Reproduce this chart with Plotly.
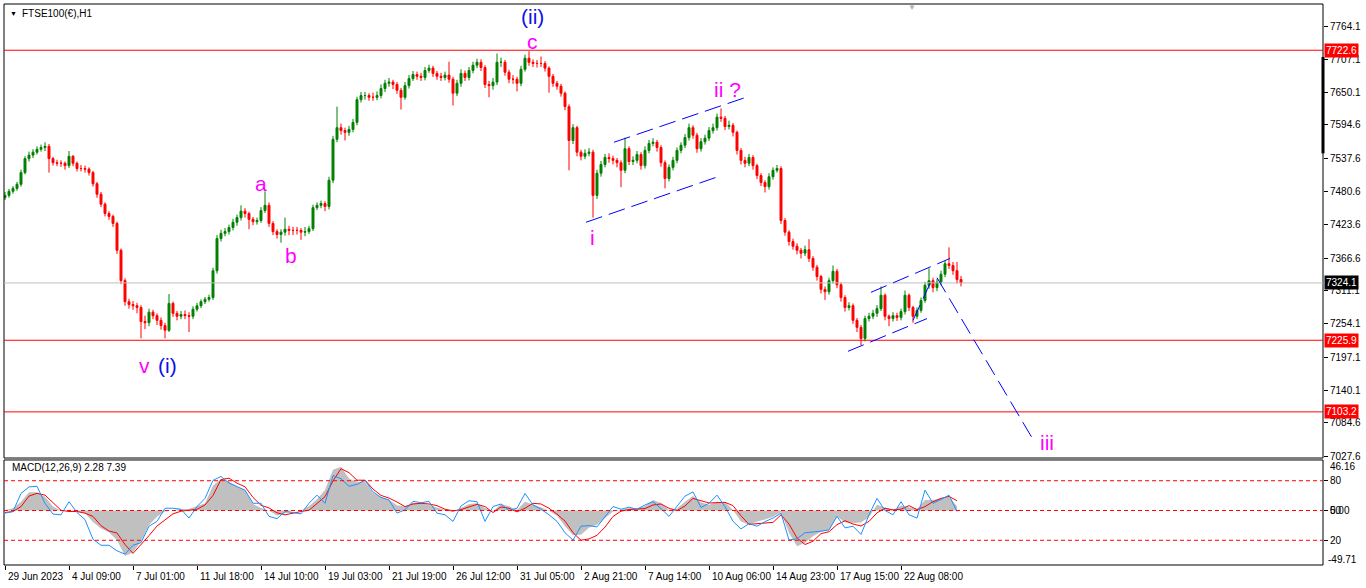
import plotly.graph_objects as go

# ---- price data: one candle per 4 hourly bars, FTSE100 H1 (29 Jun - 24 Aug 2023)
bar_step = 4
first_open = 7470
closes = [
    7474, 7481, 7486, 7493, 7513, 7537, 7543, 7548, 7553, 7556,
    7558, 7537, 7530, 7529, 7529, 7525, 7541, 7529, 7520, 7520,
    7519, 7513, 7494, 7476, 7459, 7443, 7438, 7426, 7380, 7328,
    7292, 7287, 7285, 7282, 7258, 7256, 7274, 7268, 7260, 7251,
    7243, 7289, 7272, 7267, 7270, 7268, 7267, 7279, 7285, 7292,
    7296, 7299, 7345, 7400, 7409, 7412, 7419, 7428, 7436, 7447,
    7443, 7433, 7429, 7431, 7448, 7457, 7426, 7412, 7407, 7411,
    7416, 7414, 7414, 7414, 7411, 7412, 7417, 7453, 7457, 7460,
    7455, 7500, 7570, 7590, 7585, 7582, 7587, 7599, 7638, 7645,
    7645, 7642, 7642, 7645, 7657, 7666, 7668, 7664, 7654, 7642,
    7662, 7674, 7681, 7678, 7676, 7688, 7692, 7683, 7678, 7676,
    7680, 7673, 7649, 7666, 7683, 7676, 7688, 7697, 7702, 7693,
    7664, 7662, 7668, 7702, 7702, 7685, 7673, 7673, 7666, 7690,
    7709, 7702, 7700, 7700, 7700, 7692, 7678, 7666, 7661, 7649,
    7626, 7568, 7590, 7548, 7541, 7546, 7548, 7474, 7512, 7527,
    7539, 7537, 7534, 7530, 7517, 7554, 7532, 7534, 7544, 7525,
    7551, 7563, 7565, 7556, 7530, 7503, 7522, 7534, 7551, 7560,
    7573, 7590, 7577, 7554, 7566, 7572, 7585, 7590, 7608, 7606,
    7592, 7594, 7582, 7551, 7534, 7529, 7539, 7525, 7508, 7496,
    7489, 7506, 7517, 7520, 7431, 7411, 7395, 7387, 7380, 7375,
    7381, 7366, 7351, 7335, 7313, 7309, 7328, 7344, 7321, 7299,
    7282, 7285, 7260, 7248, 7229, 7263, 7267, 7272, 7280, 7303,
    7267, 7263, 7268, 7265, 7275, 7303, 7282, 7267, 7277, 7294,
    7320, 7328, 7316, 7325, 7339, 7357, 7354, 7345, 7330, 7324.1,
]
highs = [
    7480, 7485, 7490, 7497, 7518, 7541, 7549, 7553, 7558, 7561,
    7565, 7562, 7540, 7535, 7534, 7532, 7550, 7543, 7532, 7526,
    7525, 7522, 7516, 7497, 7480, 7462, 7447, 7441, 7429, 7383,
    7332, 7297, 7293, 7290, 7286, 7268, 7280, 7278, 7272, 7265,
    7256, 7305, 7292, 7276, 7276, 7277, 7274, 7284, 7290, 7296,
    7300, 7304, 7350, 7406, 7415, 7418, 7424, 7434, 7441, 7457,
    7452, 7446, 7437, 7436, 7454, 7481, 7462, 7430, 7416, 7416,
    7436, 7422, 7420, 7420, 7418, 7420, 7422, 7458, 7462, 7465,
    7464, 7506, 7576, 7626, 7597, 7590, 7593, 7605, 7643, 7651,
    7651, 7649, 7650, 7652, 7664, 7672, 7675, 7672, 7668, 7658,
    7668, 7680, 7687, 7686, 7684, 7694, 7698, 7696, 7687, 7684,
    7686, 7703, 7677, 7672, 7690, 7688, 7694, 7703, 7708, 7707,
    7697, 7670, 7675, 7717, 7710, 7706, 7689, 7680, 7677, 7696,
    7715, 7721, 7707, 7706, 7712, 7704, 7695, 7682, 7670, 7665,
    7652, 7630, 7596, 7593, 7552, 7553, 7555, 7552, 7518, 7533,
    7545, 7546, 7542, 7538, 7534, 7573, 7558, 7541, 7550, 7548,
    7558, 7569, 7572, 7569, 7560, 7534, 7527, 7540, 7556, 7565,
    7579, 7597, 7594, 7581, 7572, 7578, 7591, 7597, 7614, 7623,
    7610, 7602, 7598, 7585, 7555, 7540, 7545, 7543, 7528, 7512,
    7500, 7512, 7522, 7526, 7524, 7435, 7414, 7400, 7392, 7384,
    7388, 7399, 7370, 7355, 7338, 7318, 7333, 7354, 7348, 7325,
    7303, 7291, 7289, 7264, 7252, 7268, 7273, 7278, 7286, 7318,
    7306, 7270, 7274, 7273, 7280, 7311, 7306, 7285, 7282, 7299,
    7326, 7349, 7333, 7331, 7345, 7362, 7385, 7360, 7360, 7336,
]
lows = [
    7466, 7470, 7477, 7482, 7489, 7510, 7532, 7538, 7544, 7549,
    7550, 7513, 7525, 7524, 7523, 7518, 7521, 7524, 7515, 7515,
    7513, 7508, 7489, 7470, 7454, 7438, 7432, 7420, 7374, 7322,
    7285, 7280, 7278, 7272, 7229, 7245, 7250, 7262, 7252, 7244,
    7229, 7240, 7266, 7260, 7262, 7262, 7240, 7262, 7275, 7281,
    7288, 7292, 7295, 7340, 7395, 7404, 7407, 7414, 7422, 7431,
    7436, 7416, 7423, 7424, 7427, 7444, 7420, 7406, 7400, 7393,
    7405, 7406, 7406, 7407, 7398, 7404, 7408, 7413, 7449, 7452,
    7447, 7450, 7495, 7565, 7578, 7568, 7576, 7582, 7594, 7633,
    7638, 7636, 7636, 7637, 7640, 7651, 7660, 7656, 7648, 7621,
    7638, 7657, 7670, 7672, 7670, 7671, 7684, 7677, 7672, 7670,
    7671, 7667, 7628, 7644, 7660, 7670, 7671, 7683, 7692, 7687,
    7658, 7642, 7655, 7663, 7694, 7679, 7666, 7665, 7652, 7661,
    7686, 7696, 7694, 7693, 7694, 7686, 7650, 7660, 7655, 7643,
    7620, 7517, 7562, 7541, 7534, 7536, 7541, 7436, 7468, 7506,
    7522, 7530, 7527, 7522, 7488, 7512, 7526, 7526, 7529, 7518,
    7520, 7546, 7558, 7549, 7523, 7486, 7498, 7517, 7529, 7546,
    7555, 7568, 7571, 7547, 7549, 7561, 7567, 7580, 7585, 7600,
    7586, 7587, 7575, 7544, 7527, 7522, 7524, 7518, 7502, 7490,
    7479, 7484, 7501, 7513, 7425, 7405, 7388, 7381, 7373, 7366,
    7370, 7360, 7345, 7328, 7306, 7295, 7304, 7323, 7315, 7292,
    7275, 7277, 7254, 7240, 7217, 7224, 7258, 7262, 7266, 7276,
    7260, 7250, 7258, 7259, 7260, 7270, 7276, 7256, 7262, 7273,
    7290, 7314, 7308, 7310, 7320, 7334, 7348, 7338, 7323, 7318,
]

# ---- MACD(12,26,9) window, one sample per 8 hourly bars
macd_step = 8
macd_hist = [
    0.6, 2.1, 8.1, 16.6, 16.6, 12.6, 3.6, -0.3, 0.3, -1.2,
    -2.4, -10.5, -16.3, -19.9, -27.1, -41.5, -38.2, -28.0, -13.2, -5.7,
    -0.9, 0.3, 1.5, 1.5, 4.2, 6.6, 22.9, 28.9, 26.5, 22.0,
    18.7, 6.0, 2.4, 0.0, -4.8, -2.4, -0.3, 0.0, 4.2, 10.2,
    18.7, 37.3, 40.0, 29.2, 25.9, 26.2, 16.0, 12.3, 9.9, 4.8,
    3.6, 7.2, 6.6, 5.4, 2.7, 0.6, -1.5, 2.4, 6.0, 6.6,
    2.1, -0.6, 6.0, 3.9, 0.6, 8.1, 5.7, 3.0, -0.3, -4.8,
    -14.4, -22.6, -22.0, -15.7, -12.9, -6.9, -0.9, 0.9, 2.1, 2.1,
    4.2, 9.6, 6.9, 0.6, 1.8, 8.1, 13.2, 7.5, 5.4, 8.1,
    7.8, 0.6, -9.9, -12.9, -9.9, -8.1, -5.7, -1.5, -20.5, -32.5,
    -29.5, -23.5, -19.3, -17.8, -5.4, -10.8, -11.4, -10.8, -6.0, 5.4,
    2.7, 0.6, 4.5, 3.0, 1.5, 9.6, 9.6, 11.1, 12.3, 4.0,
]
macd_signal = [
    -1.8, -0.9, 3.6, 13.2, 15.7, 14.1, 7.2, 0.3, -0.9, -0.9,
    -2.4, -5.4, -13.8, -18.7, -20.5, -31.0, -39.1, -31.3, -22.9, -14.1,
    -8.4, -3.0, -0.6, 0.0, 1.2, 5.1, 13.8, 28.3, 29.5, 25.0,
    21.7, 12.0, 4.8, 2.4, -2.1, -3.9, -2.1, -0.9, 0.3, 6.9,
    12.6, 27.1, 38.2, 34.6, 27.7, 27.7, 19.6, 13.8, 11.4, 7.8,
    3.6, 6.0, 6.6, 6.0, 4.5, 1.2, -0.3, 0.9, 3.3, 5.7,
    3.6, -1.8, 3.3, 2.1, -1.2, 2.1, 6.6, 6.0, 2.1, -3.3,
    -9.6, -20.2, -27.1, -25.9, -22.6, -15.1, -5.4, -0.6, 0.9, 1.2,
    1.8, 5.1, 6.0, 2.1, 0.0, 4.2, 11.1, 9.0, 6.9, 7.2,
    7.5, 4.5, -4.8, -12.6, -12.0, -11.4, -10.8, -3.9, -12.3, -25.0,
    -31.0, -28.0, -21.1, -19.3, -12.9, -9.3, -12.3, -14.1, -9.9, -2.1,
    2.1, 0.6, 1.2, 4.5, 0.9, 3.6, 8.1, 11.1, 12.9, 9.0,
]
osc_line = [
    47.4, 49.0, 67.2, 73.8, 74.4, 57.3, 46.4, 45.7, 58.9, 48.0,
    40.8, 21.0, 15.0, 15.0, 9.4, 6.1, 15.0, 17.7, 34.2, 39.1,
    52.3, 52.3, 51.3, 42.4, 54.0, 62.2, 80.4, 84.3, 77.7, 74.4,
    70.5, 57.3, 57.3, 44.1, 41.8, 49.0, 48.0, 46.7, 57.3, 65.5,
    57.3, 85.3, 82.0, 74.4, 76.4, 80.4, 68.8, 63.2, 60.6, 47.4,
    50.7, 59.2, 57.9, 59.2, 47.4, 45.7, 39.1, 54.6, 59.9, 58.9,
    39.1, 54.0, 56.6, 50.0, 52.3, 67.2, 55.6, 51.3, 45.7, 39.1,
    27.6, 20.3, 34.2, 34.8, 33.5, 44.1, 54.0, 51.3, 53.3, 51.3,
    55.6, 58.9, 52.0, 44.1, 54.0, 64.5, 68.8, 53.0, 57.3, 65.5,
    54.0, 39.1, 31.5, 36.8, 34.2, 38.8, 42.4, 47.4, 20.3, 21.6,
    27.6, 28.2, 29.2, 30.5, 44.1, 32.5, 34.2, 25.9, 45.7, 62.2,
    50.0, 45.7, 58.9, 45.7, 42.4, 70.5, 57.3, 61.2, 65.5, 49.0,
]
osc_levels = [80, 50, 20]

# ---- axis labels
label_step = 64
date_labels = [
    "29 Jun 2023", "4 Jul 09:00", "7 Jul 01:00", "11 Jul 18:00", "14 Jul 10:00",
    "19 Jul 03:00", "21 Jul 19:00", "26 Jul 12:00", "31 Jul 05:00", "2 Aug 21:00",
    "7 Aug 14:00", "10 Aug 06:00", "14 Aug 23:00", "17 Aug 15:00", "22 Aug 08:00",
]
price_ticks = [7764.1, 7707.1, 7650.1, 7594.6, 7537.6, 7480.6, 7423.6,
               7366.6, 7311.1, 7254.1, 7197.1, 7140.1, 7084.6, 7027.6]
red_levels = [7722.6, 7225.9, 7103.2]
last_price = 7324.1

# ---- elliott wave labels
wave_text = ["(ii)", "c", "a", "b", "i", "ii ?", "v", "(i)", "iii"]
wave_hour = [527, 527, 256, 286, 587, 722, 139, 162, 1042]
wave_price = [7781, 7738, 7494, 7371, 7402, 7655, 7183, 7183, 7051]
wave_color = ["#1010E8", "#FF00FF", "#FF00FF", "#FF00FF", "#FF00FF",
              "#FF00FF", "#FF00FF", "#1010E8", "#FF00FF"]

# trend/channel lines: start hour, start price, end hour, end price
chan_h0 = [581, 609, 843, 866, 908, 932]
chan_p0 = [7428, 7565, 7207, 7308, 7260, 7333]
chan_h1 = [713, 741, 922, 945, 928, 1027]
chan_p1 = [7506, 7642, 7263, 7366, 7334, 7059]

FONT = "Liberation Sans, Arial, sans-serif"

bar_x = [i * bar_step for i in range(len(closes))]
opens = [first_open] + closes[:-1]
macd_x = [i * macd_step for i in range(len(macd_hist))]

fig = go.Figure()
fig.add_trace(go.Candlestick(
    x=bar_x, open=opens, high=highs, low=lows, close=closes,
    increasing=dict(line=dict(color="#008000", width=1), fillcolor="#008000"),
    decreasing=dict(line=dict(color="#FF0000", width=1), fillcolor="#FF0000"),
    whiskerwidth=0, xaxis="x", yaxis="y", showlegend=False, hoverinfo="skip",
))
fig.add_trace(go.Scatter(
    x=macd_x, y=macd_hist, mode="lines", fill="tozeroy", fillcolor="#C0C0C0",
    line=dict(width=0, color="#C0C0C0"), xaxis="x", yaxis="y2", showlegend=False,
))
fig.add_trace(go.Scatter(
    x=macd_x, y=macd_signal, mode="lines", line=dict(color="#FF0000", width=1),
    xaxis="x", yaxis="y2", showlegend=False,
))
fig.add_trace(go.Scatter(
    x=macd_x, y=osc_line, mode="lines", line=dict(color="#1E90FF", width=1),
    xaxis="x", yaxis="y3", showlegend=False,
))

main_dom = [0.1907, 1.0]
sub_dom = [0.0, 0.1872]

shapes = []
# panel frames
for dom in (main_dom, sub_dom):
    shapes.append(dict(type="rect", xref="paper", yref="paper", x0=0, x1=1,
                       y0=dom[0], y1=dom[1], line=dict(color="black", width=1)))
for lv in red_levels:
    shapes.append(dict(type="line", xref="paper", yref="y", x0=0, x1=1, y0=lv, y1=lv,
                       line=dict(color="#FF0000", width=1)))
shapes.append(dict(type="line", xref="paper", yref="y", x0=0, x1=1,
                   y0=last_price, y1=last_price, line=dict(color="#C0C0C0", width=1)))
for lv in osc_levels:
    shapes.append(dict(type="line", xref="paper", yref="y3", x0=0, x1=1, y0=lv, y1=lv,
                       line=dict(color="#FF0000", width=1, dash="4px,3px")))
for h0, p0, h1, p1 in zip(chan_h0, chan_p0, chan_h1, chan_p1):
    shapes.append(dict(type="line", xref="x", yref="y", x0=h0, y0=p0, x1=h1, y1=p1,
                       line=dict(color="#0000FF", width=1, dash="17px,7px")))
# scroll marker on the price scale
shapes.append(dict(type="line", xref="paper", yref="y", x0=1, x1=1, y0=7711, y1=7546,
                   line=dict(color="black", width=3)))

ann = []
for t, h, p, c in zip(wave_text, wave_hour, wave_price, wave_color):
    ann.append(dict(x=h, y=p, xref="x", yref="y", text=t, showarrow=False,
                    xanchor="center", yanchor="middle",
                    font=dict(family=FONT, size=21, color=c)))
for lv in red_levels:
    ann.append(dict(x=1, xref="paper", xanchor="left", xshift=1, y=lv, yref="y",
                    text=f"{lv:.1f}", showarrow=False, bgcolor="#FF0000", borderpad=1,
                    font=dict(family=FONT, size=10, color="white")))
ann.append(dict(x=1, xref="paper", xanchor="left", xshift=1, y=last_price, yref="y",
                text=f"{last_price:.1f}", showarrow=False, bgcolor="black", borderpad=1,
                font=dict(family=FONT, size=10, color="white")))
for i, lab in enumerate(date_labels):
    ann.append(dict(x=i * label_step, xref="x", xanchor="left", xshift=1,
                    y=0, yref="paper", yanchor="top", yshift=-4, text=lab,
                    showarrow=False, font=dict(family=FONT, size=10, color="black")))
ann.append(dict(x=0, xref="paper", xanchor="left", xshift=4, y=1, yref="paper",
                yanchor="middle", yshift=-9, text="▼", showarrow=False,
                font=dict(family=FONT, size=7, color="black")))
ann.append(dict(x=0, xref="paper", xanchor="left", xshift=16, y=1, yref="paper",
                yanchor="middle", yshift=-9, text="FTSE100(€),H1", showarrow=False,
                font=dict(family=FONT, size=10, color="black")))
ann.append(dict(x=0.6884, xref="paper", xanchor="center", y=1, yref="paper",
                yanchor="middle", yshift=-3, text="▼", showarrow=False,
                font=dict(family=FONT, size=8, color="#B0B0B0")))
ann.append(dict(x=0, xref="paper", xanchor="left", xshift=6, y=sub_dom[1], yref="paper",
                yanchor="middle", yshift=-8, text="MACD(12,26,9) 2.28 7.39", showarrow=False,
                font=dict(family=FONT, size=10, color="black")))
ann.append(dict(x=1, xref="paper", xanchor="left", xshift=5, y=sub_dom[1], yref="paper",
                yanchor="middle", yshift=-7, text="46.16", showarrow=False,
                font=dict(family=FONT, size=10, color="black")))
ann.append(dict(x=1, xref="paper", xanchor="left", xshift=3, y=0, yref="paper",
                yanchor="middle", yshift=6, text="-49.71", showarrow=False,
                font=dict(family=FONT, size=10, color="black")))

tick_font = dict(family=FONT, size=10, color="black")
fig.update_layout(
    width=1366, height=588,
    margin=dict(l=4, r=43, t=4, b=23),
    paper_bgcolor="white", plot_bgcolor="white",
    showlegend=False,
    xaxis=dict(domain=[0, 1], range=[-1, 1318], anchor="y2", showgrid=False,
               zeroline=False, showline=False, ticks="outside", ticklen=4,
               tickcolor="black", tickvals=[i * label_step for i in range(len(date_labels))],
               showticklabels=False, rangeslider=dict(visible=False), fixedrange=True),
    yaxis=dict(domain=main_dom, range=[7024.2, 7801.8], side="right", anchor="x",
               showgrid=False, zeroline=False, ticks="outside", ticklen=4,
               tickcolor="black", tickvals=price_ticks,
               ticktext=[f"{v:.1f}" for v in price_ticks], tickfont=tick_font),
    yaxis2=dict(domain=sub_dom, range=[-49.71, 46.16], side="right", anchor="x",
                showgrid=False, zeroline=False, ticks="outside", ticklen=4,
                tickcolor="black", tickvals=[0], ticktext=["0.00"], tickfont=tick_font),
    yaxis3=dict(overlaying="y2", range=[-4.86, 100.9], side="right", anchor="x",
                showgrid=False, zeroline=False, ticks="outside", ticklen=4,
                tickcolor="black", tickvals=osc_levels, tickfont=tick_font),
    shapes=shapes,
    annotations=ann,
)

fig.write_html("out.html", config={"displayModeBar": False},
               post_script="document.body.style.margin='0px';")
